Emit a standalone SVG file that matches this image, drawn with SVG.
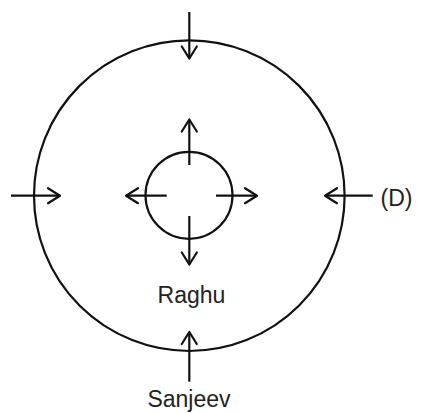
<svg xmlns="http://www.w3.org/2000/svg" width="448" height="413" viewBox="0 0 448 413">
<defs>
<style>
.ring{fill:none;stroke:#111;stroke-width:2.2}
.arr{fill:none;stroke:#111;stroke-width:2.2;marker-end:url(#chev)}
.lbl{font-family:"Liberation Sans",Arial,sans-serif;font-size:23px;fill:#222}
</style>
<marker id="chev" markerUnits="userSpaceOnUse" markerWidth="20" markerHeight="20" viewBox="-14 -10 16 20" refX="0" refY="0" orient="auto">
<path d="M-12,-7.5 L0,0 L-12,7.5" fill="none" stroke="#111" stroke-width="2.2" stroke-linecap="round" stroke-linejoin="round"/>
</marker>
</defs>
<rect width="448" height="413" fill="#fff"/>
<g id="outer-circle"><circle class="ring" cx="189.3" cy="195.7" r="155.3"/></g>
<g id="inner-circle"><circle class="ring" cx="189" cy="195.3" r="43.5"/></g>
<g id="connectors">
<line class="arr" x1="189.3" y1="12" x2="189.3" y2="58.5"/>
<line class="arr" x1="11" y1="195.7" x2="60" y2="195.7"/>
<line class="arr" x1="372.7" y1="195.7" x2="325" y2="195.7"/>
<line class="arr" x1="189.3" y1="381.7" x2="189.3" y2="332"/>
<line class="arr" x1="189.3" y1="165" x2="189.3" y2="119.5"/>
<line class="arr" x1="166.7" y1="195.7" x2="126" y2="195.7"/>
<line class="arr" x1="216" y1="195.7" x2="257" y2="195.7"/>
<line class="arr" x1="189.3" y1="216" x2="189.3" y2="264.5"/>
</g>
<g id="label-d"><text class="lbl" x="380.5" y="205.5">(D)</text></g>
<g id="label-raghu"><text class="lbl" x="191.5" y="303.3" text-anchor="middle">Raghu</text></g>
<g id="label-sanjeev"><text class="lbl" x="189" y="406.5" text-anchor="middle">Sanjeev</text></g>
</svg>
